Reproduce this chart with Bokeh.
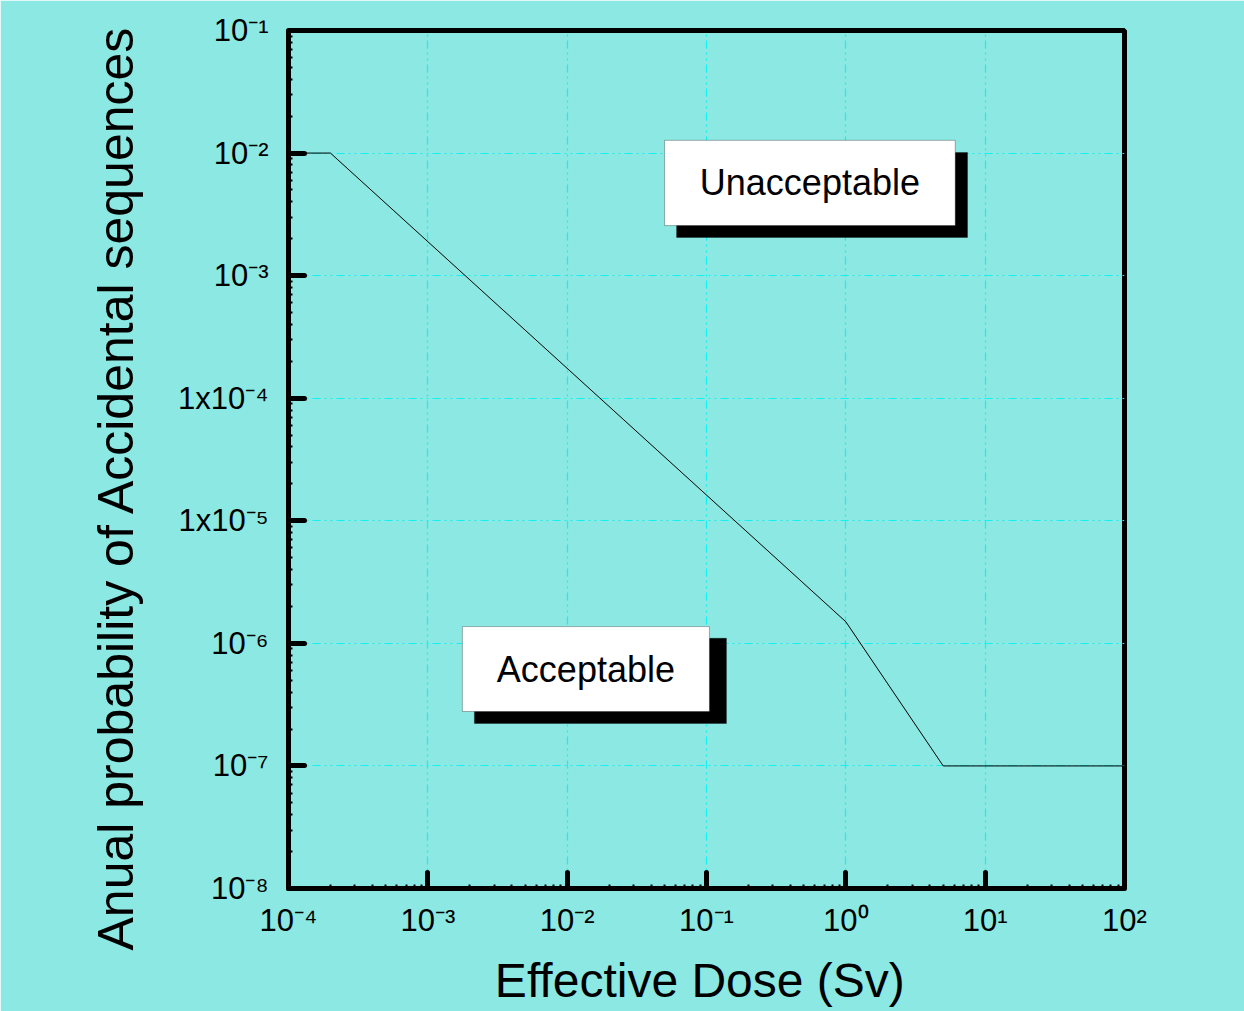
from bokeh.plotting import figure
from bokeh.models import Range1d, FixedTicker, BoxAnnotation, Label, Title
from bokeh.embed import file_html
from bokeh.resources import INLINE

# ---- data ----
dose = [1e-4, 2e-4, 1.0, 5.0, 100.0]
probability = [1e-2, 1e-2, 1.5e-6, 1e-7, 1e-7]

x_ticks = [1e-4, 1e-3, 1e-2, 1e-1, 1e0, 1e1, 1e2]
x_tick_labels = ["10⁻⁴", "10⁻³", "10⁻²", "10⁻¹", "10⁰", "10¹", "10²"]
y_ticks = [1e-8, 1e-7, 1e-6, 1e-5, 1e-4, 1e-3, 1e-2, 1e-1]
y_tick_labels = ["10⁻⁸", "10⁻⁷", "10⁻⁶", "1x10⁻⁵", "1x10⁻⁴", "10⁻³", "10⁻²", "10⁻¹"]

region_labels = ["Unacceptable", "Acceptable"]
x_title = "Effective Dose  (Sv)"
y_title = "Anual probability of Accidental sequences"

BG = "#8BE8E2"
FONT = "Liberation Sans"

x_minor = [m * t for t in x_ticks[:-1] for m in range(2, 10)]
y_minor = [m * t for t in y_ticks[:-1] for m in range(2, 10)]

p = figure(width=1244, height=1011,
           x_axis_type="log", y_axis_type="log",
           x_range=Range1d(1e-4, 1e2), y_range=Range1d(1e-8, 1e-1),
           output_backend="svg", toolbar_location=None,
           min_border_left=288, min_border_right=120,
           min_border_top=30, min_border_bottom=123)

p.background_fill_color = BG
p.border_fill_color = BG
p.outline_line_color = "black"
p.outline_line_width = 5

xt = FixedTicker(ticks=x_ticks, minor_ticks=x_minor)
yt = FixedTicker(ticks=y_ticks, minor_ticks=y_minor)
p.xaxis.ticker = xt
p.yaxis.ticker = yt
p.xgrid.ticker = xt
p.ygrid.ticker = yt

p.xaxis.major_label_overrides = dict(zip(x_ticks, x_tick_labels))
p.yaxis.major_label_overrides = dict(zip(y_ticks, y_tick_labels))

for ax in (p.xaxis, p.yaxis):
    ax.axis_line_width = 5
    ax.axis_line_color = "black"
    ax.major_tick_in = 16
    ax.major_tick_out = 0
    ax.major_tick_line_width = 5
    ax.major_tick_line_cap = "round"
    ax.minor_tick_in = 4
    ax.minor_tick_out = 0
    ax.minor_tick_line_width = 2
    ax.major_label_text_font = FONT
    ax.major_label_text_font_size = "31px"
    ax.major_label_text_color = "black"
    ax.axis_label_text_font = FONT
    ax.axis_label_text_font_style = "normal"
    ax.axis_label_text_color = "black"

p.xaxis.major_label_standoff = 14
p.yaxis.major_label_standoff = 20
p.xaxis.axis_label = x_title
p.xaxis.axis_label_text_font_size = "48px"
p.xaxis.axis_label_standoff = 13

for g in (p.xgrid, p.ygrid):
    g.grid_line_color = "#12F2F2"
    g.grid_line_width = 1.2
    g.grid_line_dash = "8 4 2 4 2 4"

p.line(dose, probability, line_color="black", line_width=1)

# y-axis title as a left-side title, starting a little below the frame
p.add_layout(Title(text=y_title, align="left", offset=-62, standoff=62,
                   text_font=FONT, text_font_size="50px",
                   text_font_style="normal", text_color="black"), "left")

# region boxes with drop shadows (annotation positions in data units)
boxes = [
    # (shadow l, r, b, t), (box l, r, b, t)
    ((0.061, 7.47, 0.00205, 0.0101), (0.05, 6.1, 0.00256, 0.0127)),
    ((2.16e-3, 0.139, 2.22e-7, 1.10e-6), (1.77e-3, 0.105, 2.78e-7, 1.37e-6)),
]
for (sh, bx), txt in zip(boxes, region_labels):
    p.add_layout(BoxAnnotation(left=sh[0], right=sh[1], bottom=sh[2], top=sh[3],
                               fill_color="black", fill_alpha=1, line_color="black",
                               line_width=1, level="annotation"))
    p.add_layout(BoxAnnotation(left=bx[0], right=bx[1], bottom=bx[2], top=bx[3],
                               fill_color="white", fill_alpha=1, line_color="black",
                               line_width=1, level="annotation"))
    cx = (bx[0] * bx[1]) ** 0.5
    cy = (bx[2] * bx[3]) ** 0.5
    p.add_layout(Label(x=cx, y=cy, text=txt, text_align="center",
                       text_baseline="middle", text_font=FONT,
                       text_font_size="36px", text_color="black"))

open("out.html", "w").write(file_html(p, INLINE))
